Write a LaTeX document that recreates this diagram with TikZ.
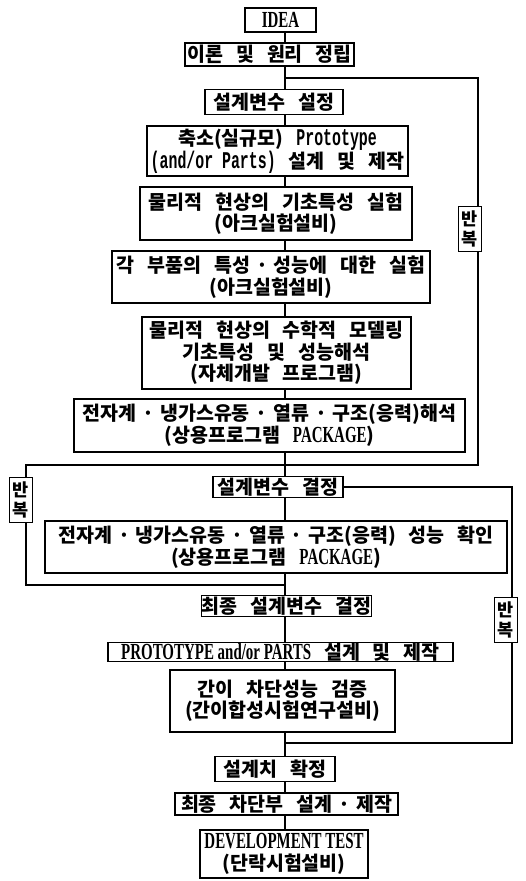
\documentclass[tikz,border=0pt]{standalone}
\usepackage{fontspec}
\setmainfont{Liberation Serif}
\newfontfamily\kr[WordSpace=2.9]{Noto Sans CJK KR}
\newfontfamily\lser[FakeStretch=0.65]{Liberation Serif}
\newfontfamily\lmono[FakeStretch=0.62]{Liberation Mono}
\newcommand\kdot{\hspace{0.3em}·\hspace{0.3em}}
\newcommand\latx[1]{{\lser\bfseries\fontsize{23}{21.5}\selectfont #1}}
\newcommand\monx[1]{{\lmono\bfseries\fontsize{24}{21.5}\selectfont #1}}
\begin{document}
\begin{tikzpicture}[x=1pt,y=-1pt,
  box/.style={draw, line width=1.1pt, fill=white, inner sep=0pt, align=center,
    font=\kr\bfseries\fontsize{19.5}{21.5}\selectfont},
  rep/.style={draw, line width=1.1pt, fill=white, inner sep=0pt, align=center,
    minimum width=23, minimum height=45, font=\kr\bfseries\fontsize{17.5}{20}\selectfont},
  link/.style={line width=1.1pt}]
\useasboundingbox (0,0) rectangle (525,881);
\coordinate (sp) at (285,0);
% boxes
\node[box, minimum width=71, minimum height=24] (idea) at (280.5,20) {\latx{IDEA}};
\node[box, minimum width=169, minimum height=23] (theory) at (269.5,54.5) {이론 및 원리 정립};
\node[box, minimum width=138, minimum height=25] (setvar) at (274,102) {설계변수 설정};
\node[box, minimum width=261, minimum height=50] (proto) at (277.5,151)
  {축소(실규모) \monx{Prototype}\\\monx{(and/or Parts)} 설계 및 제작};
\node[box, minimum width=272, minimum height=53] (phys) at (276,213.5)
  {물리적 현상의 기초특성 실험\\(아크실험설비)};
\node[box, minimum width=318, minimum height=52] (parts) at (271,277)
  {각 부품의 특성\kdot 성능에 대한 실험\\(아크실험설비)};
\node[box, minimum width=269, minimum height=72] (math) at (276.5,353)
  {물리적 현상의 수학적 모델링\\기초특성 및 성능해석\\(자체개발 프로그램)};
\node[box, minimum width=391, minimum height=53] (anal) at (269.5,425.5)
  {전자계\kdot 냉가스유동\kdot 열류\kdot 구조(응력)해석\\(상용프로그램 \latx{PACKAGE})};
\node[box, minimum width=130, minimum height=21] (decide) at (278,487) {설계변수 결정};
\node[box, minimum width=462, minimum height=52] (check) at (276,547)
  {전자계\kdot 냉가스유동\kdot 열류\kdot 구조(응력) 성능 확인\\(상용프로그램 \latx{PACKAGE})};
\node[box, minimum width=163, minimum height=21] (final) at (286.5,606) {최종 설계변수 결정};
\node[box, minimum width=345, minimum height=19] (pp) at (280.5,652)
  {\latx{PROTOTYPE and/or PARTS} 설계 및 제작};
\node[box, minimum width=225, minimum height=62] (simple) at (282.5,701)
  {간이 차단성능 검증\\(간이합성시험연구설비)};
\node[box, minimum width=120, minimum height=25] (confirm) at (275,769) {설계치 확정};
\node[box, minimum width=223, minimum height=22] (fdes) at (286.5,804) {최종 차단부 설계\kdot 제작};
\node[box, minimum width=168, minimum height=48] (dev) at (284,854)
  {\latx{DEVELOPMENT TEST}\\(단락시험설비)};
% loop corner points
\coordinate (b1) at (285,78);
\coordinate (c1) at (478,78);
\coordinate (c2) at (478,465);
\coordinate (b2) at (285,465);
\coordinate (c3) at (26,465);
\coordinate (c4) at (26,585);
\coordinate (b3) at (285,585);
\coordinate (c5) at (512,487);
\coordinate (c6) at (512,743);
\coordinate (b4) at (285,743);
% spine
\foreach \a/\b in {idea/theory,theory/setvar,setvar/proto,proto/phys,phys/parts,parts/math,
  math/anal,anal/decide,decide/check,check/final,final/pp,pp/simple,simple/confirm,
  confirm/fdes,fdes/dev}
  \draw[link] (sp |- \a.south) -- (sp |- \b.north);
% loops
\draw[link] (b1) -- (c1) -- (c2) -- (b2);
\draw[link] (b2) -- (c3) -- (c4) -- (b3);
\draw[link] (decide.east |- c5) -- (c5) -- (c6) -- (b4);
% repeat labels
\node[rep] (r1) at (470,229) {반\\복};
\node[rep] (r2) at (21,500) {반\\복};
\node[rep] (r3) at (506,620) {반\\복};
\end{tikzpicture}
\end{document}
